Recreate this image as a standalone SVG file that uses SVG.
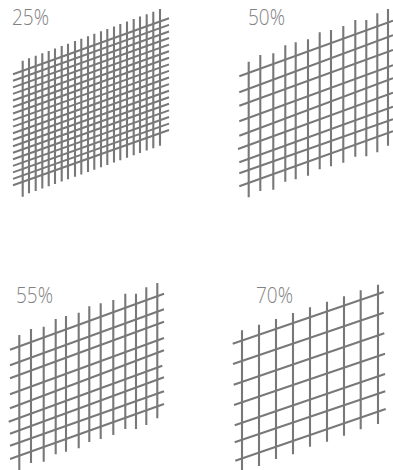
<svg xmlns="http://www.w3.org/2000/svg" width="393" height="470" viewBox="0 0 393 470">
<style>
.g{fill:none;stroke:#787878;stroke-width:2}
.v{fill:none;stroke:#787878;stroke-width:2.1}
text{font-family:"Open Sans","Liberation Sans",sans-serif;font-weight:300;font-size:21.5px;fill:#808080;opacity:.99}
</style>
<rect width="393" height="470" fill="#fff"/>
<g id="panel-25">
<text x="12" y="25" textLength="37" lengthAdjust="spacingAndGlyphs">25%</text>
<path class="g" d="M13 74.3L169 18.3M13 80.8L169 24.9M13 87.4L169 31.5M13 93.9L169 38M13 100.5L169 44.6M13 107L169 51.2M13 113.5L169 57.8M13 120.1L169 64.4M13 126.6L169 70.9M13 133.2L169 77.5M13 139.7L169 84.1M13 146.2L169 90.7M13 152.8L169 97.3M13 159.3L169 103.8M13 165.9L169 110.4M13 172.4L169 117M13 178.9L169 123.6M13 185.3L169 130"/>
<path class="v" d="M22.7 60.7V196.7M29 58.3V193.3M35.7 55.8V190.9M42.3 53.3V188.5M48.7 50.9V186.2M55 48.5V183.9M61.7 46V181.5M68 43.7V179.2M75 41V176.7M81.3 38.7V174.4M88 36.2V172M94.3 33.8V169.7M101 31.3V167.3M107.3 29V165M114 26.4V162.5M120.3 24V160.2M127 21.5V157.8M133.7 19V155.3M140 16.6V153M146.7 14.2V150.6M153.3 11.7V148.2M160 9V145.7"/>
</g>
<g id="panel-50">
<text x="248" y="25" textLength="37" lengthAdjust="spacingAndGlyphs">50%</text>
<path class="g" d="M239.3 76.3L393 20.7M239.3 92.3L393 35.3M239.3 105.7L393 50M239.3 121.3L393 65.3M239.3 135.7L393 78.3M238 149L393 92.7M239.3 162.3L393 106.7M239.3 173.3L393 119.3M239.3 186.3L393 131.3"/>
<path class="v" d="M248.7 61.7V197.3M260.3 55V191M273.3 53.3V189.7M285.3 45.3V181.7M295.7 42.3V179.3M308 39.3V175.7M319.7 32.3V169.3M331 30V166.3M343.3 26V162.7M355.3 20V156.7M366.3 20V156.3M377.3 13.3V152.3M388 9V145.7"/>
</g>
<g id="panel-55">
<text x="16" y="303" textLength="37" lengthAdjust="spacingAndGlyphs">55%</text>
<path class="g" d="M10 349.7L164 293.7M10 365.3L164 309.3M10 378.3L164 321.7M10 394.3L164 338M10 408.3L164 350.3M8.7 421.7L162.3 365.7M10 433.7L164 377.3M10 445.7L164 391.3M10 459L164 404"/>
<path class="v" d="M19.3 335V470M31 329V463M43.7 326.7V461.7M55.7 319V454.3M66 316V451.7M78.7 312.7V448.3M89.3 306.3V442M100.7 303.3V439M113.3 300V435M125.3 293.7V429M136 293.7V429M146.3 287.3V425M157.3 283V418.3"/>
</g>
<g id="panel-70">
<text x="256" y="303" textLength="37" lengthAdjust="spacingAndGlyphs">70%</text>
<path class="g" d="M232.7 343.7L383.7 292M233 364L383.7 312.7M233.7 384.7L384.3 333.3M234 405L385 353.7M234.7 425.3L385 374M234.7 442.3L385.3 391.3M235.3 460.7L385.7 409"/>
<path class="v" d="M242 330.3V470M259 324.7V466M276 319V459M293 313V454.3M310 307.3V446.7M327 301.7V441.7M344 296.3V435.7M360.7 290.3V429.3M378 284.7V424"/>
</g>
</svg>
